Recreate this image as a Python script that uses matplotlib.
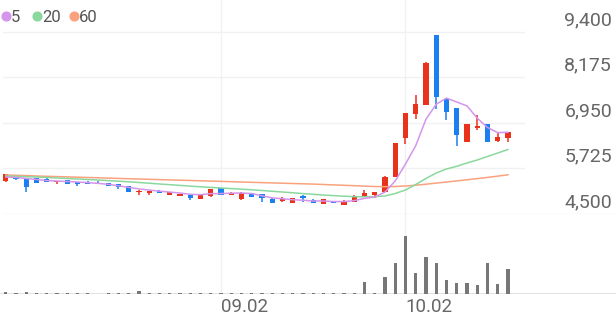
import numpy as np
import matplotlib
matplotlib.use("Agg")
import matplotlib.pyplot as plt

plt.rcParams["font.family"] = ["Roboto", "DejaVu Sans"]

# daily candles (index 0..49), Korean colours: red = up, blue = down
opens = [5390, 5500, 5460, 5460, 5435, 5355, 5405, 5355, 5370, 5340,
         5340, 5300, 5255, 5095, 5065, 5130, 5010, 4995, 5005, 4915,
         4975, 5200, 5020, 4895, 5060, 5040, 4895, 4840, 4805, 4995,
         4880, 4775, 4850, 4740, 4830, 4965, 5010, 5100, 5505, 6540,
         7185, 7435, 9320, 7590, 7345, 6440, 6805, 6915, 6455, 6555]
highs = [5590, 5520, 5470, 5470, 5460, 5395, 5410, 5360, 5375, 5375,
         5345, 5305, 5260, 5135, 5115, 5135, 5090, 5045, 5010, 5045,
         5185, 5205, 5080, 5080, 5065, 5045, 4940, 4950, 4925, 5000,
         4910, 4900, 4855, 4865, 5000, 5145, 5085, 5510, 6410, 7220,
         7705, 8585, 9320, 7595, 7350, 6920, 7165, 6920, 6690, 6720]
lows = [5350, 5420, 5100, 5330, 5350, 5300, 5310, 5255, 5305, 5305,
        5250, 5175, 5095, 5020, 5020, 5060, 5005, 4990, 4880, 4910,
        4970, 5000, 5015, 4890, 4960, 4815, 4785, 4835, 4800, 4815,
        4800, 4770, 4800, 4735, 4825, 4960, 4920, 5095, 5500, 6375,
        7055, 7430, 7325, 7030, 6330, 6435, 6760, 6435, 6450, 6440]
closes = [5580, 5440, 5235, 5340, 5355, 5390, 5315, 5310, 5310, 5310,
          5255, 5230, 5100, 5130, 5110, 5065, 5085, 5040, 4940, 5040,
          5180, 5005, 5075, 5075, 4965, 4930, 4790, 4910, 4920, 4920,
          4805, 4895, 4805, 4860, 4995, 5075, 5080, 5505, 6400, 7210,
          7455, 8575, 7660, 7245, 6625, 6915, 6870, 6440, 6565, 6715]
volumes = [20, 12, 20, 8, 6, 8, 6, 8, 6, 5,
           8, 6, 8, 30, 8, 6, 8, 6, 8, 6,
           8, 10, 8, 6, 10, 8, 6, 8, 6, 8,
           15, 6, 8, 6, 8, 117, 10, 173, 310, 576,
           210, 373, 306, 140, 110, 113, 93, 313, 103, 250]

# moving averages
ma5 = [5496, 5483, 5456, 5429, 5400, 5388, 5375, 5361, 5345, 5326,
       5298, 5260, 5215, 5175, 5145, 5115, 5090, 5065, 5030, 5020,
       5048, 5050, 5060, 5065, 5050, 4990, 4935, 4910, 4885, 4870,
       4850, 4850, 4835, 4835, 4860, 4920, 4955, 5090, 5390, 5845,
       6340, 7050, 7455, 7620, 7515, 7410, 7080, 6830, 6690, 6700]
ma20 = [5523, 5515, 5504, 5496, 5483, 5469, 5456, 5442, 5429, 5415,
        5399, 5383, 5367, 5348, 5329, 5308, 5289, 5270, 5251, 5232,
        5216, 5200, 5184, 5168, 5152, 5133, 5111, 5092, 5071, 5049,
        5030, 5011, 4995, 4979, 4966, 4963, 4966, 4985, 5052, 5146,
        5294, 5456, 5604, 5712, 5784, 5873, 5954, 6048, 6142, 6236]
ma60 = [5550, 5542, 5534, 5523, 5515, 5507, 5499, 5491, 5483, 5475,
        5466, 5458, 5450, 5442, 5434, 5426, 5418, 5410, 5402, 5394,
        5386, 5378, 5370, 5361, 5353, 5345, 5337, 5329, 5321, 5313,
        5305, 5294, 5283, 5273, 5262, 5251, 5240, 5235, 5240, 5254,
        5275, 5302, 5332, 5361, 5391, 5421, 5453, 5485, 5520, 5555]

ma_names = ["5", "20", "60"]
ma_colors = ["#d495ec", "#8ad89e", "#f9a27d"]

price_ticks = [4500, 5725, 6950, 8175, 9400]
date_pos = [21, 39]
date_labels = ["09.02", "10.02"]

UP = "#e8321c"
DOWN = "#1a7ff0"
GRID = "#f1f1f1"
TXT = "#666666"

W, H = 616, 321
fig = plt.figure(figsize=(W / 100, H / 100), dpi=100)
x = np.arange(len(closes))
xlim = (-0.561, 59.54)

# price panel
ax = fig.add_axes([0, 1 - 214 / H, 1, 214 / H])
ax.set_xlim(*xlim)
ax.set_ylim(4500, 10261)
ax.axis("off")
for v in price_ticks[1:]:
    ax.axhline(v, xmin=0.005, xmax=0.85, color=GRID, lw=1, zorder=0)
ax.axhline(price_ticks[0], xmin=0.005, xmax=1, color="#e8e8e8", lw=1, zorder=0)
for p in date_pos:
    ax.axvline(p, color=GRID, lw=1, zorder=0)

for v in price_ticks:
    ax.annotate(f"{v:,}", xy=(1, v), xycoords=("axes fraction", "data"),
                xytext=(-4, 7), textcoords="offset pixels",
                ha="right", va="baseline", fontsize=14, color=TXT)

o = np.array(opens)
c = np.array(closes)
cols = [UP if cc >= oo else DOWN for oo, cc in zip(o, c)]
ax.vlines(x, lows, highs, colors=cols, lw=1.1, zorder=2)
ax.bar(x, np.maximum(np.abs(c - o), 15), bottom=np.minimum(o, c), width=0.5,
       color=cols, zorder=3)

for vals, col in zip([ma60, ma20, ma5], ma_colors[::-1]):
    ax.plot(x, vals, color=col, lw=1.1, zorder=4)

# legend
lx = [0.0093, 0.0606, 0.1201]
for px, name, col in zip(lx, ma_names, ma_colors):
    fig.add_artist(plt.Line2D([px], [1 - 15.7 / H], marker="o", ms=6.3,
                              color=col, mec=col, transform=fig.transFigure))
    fig.text(px + 0.0078, 1 - 15.7 / H, name, fontsize=12, color="#555555",
             ha="left", va="center_baseline")

# volume panel
axv = fig.add_axes([0, 1 - 294 / H, 1, 80 / H])
axv.set_xlim(*xlim)
axv.set_ylim(0, 800)
for s in axv.spines.values():
    s.set_visible(False)
axv.axhline(0, color="#dddddd", lw=1.2, zorder=1)
for p in date_pos:
    axv.axvline(p, color=GRID, lw=1, zorder=0)
axv.bar(x, volumes, width=0.33, color="#777777", zorder=2)
axv.set_yticks([])
axv.set_xticks(date_pos, date_labels)
axv.tick_params(axis="x", length=0, pad=3, labelsize=13.5, labelcolor=TXT)
for lab in axv.get_xticklabels():
    lab.set_horizontalalignment("left")

fig.savefig("out.png", dpi=100)
